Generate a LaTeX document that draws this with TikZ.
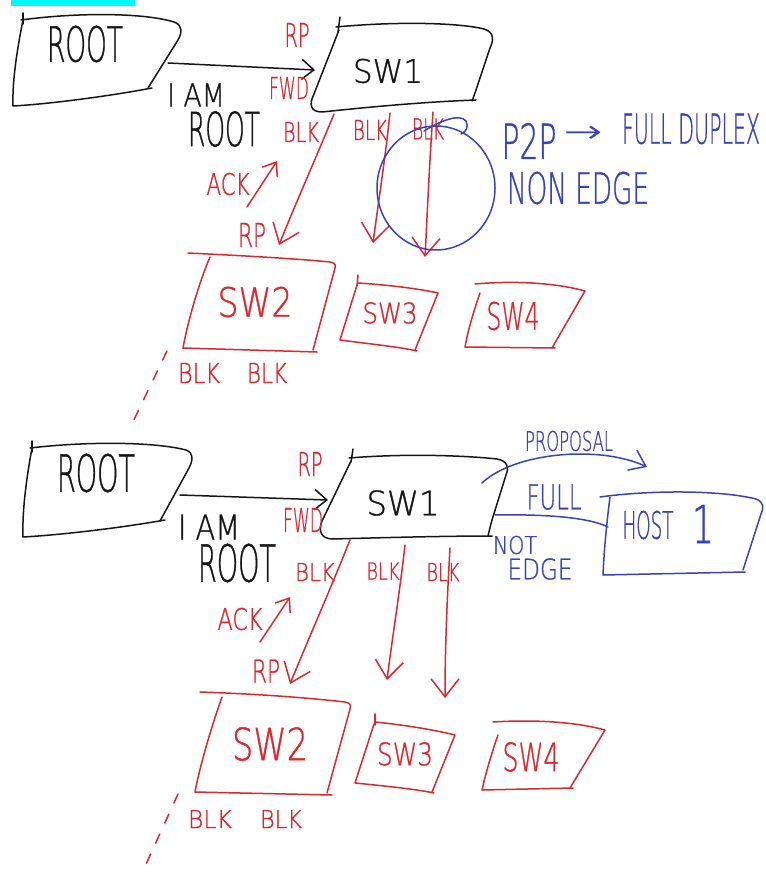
\documentclass[tikz,border=0pt]{standalone}
\usepackage{fontspec}
\usepackage{graphicx}
\setmainfont{Liberation Sans}
\newfontfamily\handfont[UprightFeatures={FakeBold=1}]{DejaVuSans-ExtraLight.ttf}
\usetikzlibrary{arrows.meta}

\definecolor{pen}{RGB}{22,22,22}
\definecolor{redpen}{RGB}{222,38,46}
\definecolor{bluepen}{RGB}{58,66,186}
\definecolor{cyanbar}{RGB}{0,250,250}

% hand-lettered label squeezed into a given width x height box (in pt)
\newcommand\hand[3]{\resizebox{#1pt}{#2pt}{\handfont #3}}

\tikzset{
  ink/.style={line width=1.5pt, line cap=round, line join=round},
  blk/.style={ink, draw=pen},
  rd/.style={ink, draw=redpen},
  bl/.style={ink, draw=bluepen},
  vhead/.style={-{Straight Barb[length=18pt,width=28pt]}},
  vblack/.style={-{Straight Barb[length=12pt,width=20pt]}},
  vsmall/.style={-{Straight Barb[length=12pt,width=18pt]}},
  lbl/.style={inner sep=0pt, anchor=center},
  redlbl/.style={lbl, text=redpen},
  bluelbl/.style={lbl, text=bluepen},
  blacklbl/.style={lbl, text=pen},
}

\begin{document}
\begin{tikzpicture}[x=1pt,y=-1pt]
\useasboundingbox (0,0) rectangle (765,874);
\fill[white] (0,0) rectangle (765,874);
\fill[cyanbar] (11,0) rectangle (135,6);

% ================= upper sketch =================
% ROOT bridge
\draw[blk] (23,13) -- (23,24);
\draw[blk] (21,20) .. controls (80,12) and (145,13) .. (174,22) .. controls (183,25) and (182,33) .. (178,40) -- (148,88);
\draw[blk] (152,88) .. controls (110,96) and (50,104) .. (13,106) .. controls (12,80) and (18,45) .. (23,20);
\node[blacklbl] (rootA) at (85,44) {\hand{76}{36}{ROOT}};

% SW1
\draw[blk] (340,17) -- (338,32);
\draw[blk] (336,27) .. controls (400,21) and (460,23) .. (484,29) .. controls (494,32) and (494,40) .. (490,48) -- (478,84) .. controls (476,90) and (474,96) .. (472,101);
\draw[blk] (476,100) .. controls (420,102) and (360,108) .. (322,112) .. controls (310,112) and (309,104) .. (314,94) -- (339,30);
\node[blacklbl] (sw1A) at (388,71) {\hand{70}{24}{SW1}};

% BPDU from the root
\coordinate (rootA-e) at (168,63);
\coordinate (sw1A-w) at (315,70);
\draw[blk, vblack] (rootA-e) -- (sw1A-w);
\node[blacklbl] (iamA) at (196,95) {\hand{58}{23}{I AM}};
\node[blacklbl] (rootmsgA) at (224,129) {\hand{72}{35}{ROOT}};
\node[redlbl] (rpA) at (297,35) {\hand{25}{24}{RP}};
\node[redlbl] (fwdA) at (289,88) {\hand{40}{22}{FWD}};

% SW2, SW3, SW4
\draw[rd] (188,253) .. controls (250,256) and (300,259) .. (330,262) .. controls (336,263) and (336,266) .. (335,268) -- (313,350);
\draw[rd] (210,257) .. controls (200,280) and (188,320) .. (183,348) -- (317,352);
\node[redlbl] (sw2A) at (255,302) {\hand{75}{30}{SW2}};

\draw[rd] (358,275) -- (357,286);
\draw[rd] (358,283) .. controls (390,285) and (420,289) .. (438,293) -- (415,350);
\draw[rd] (357,285) -- (340,340) .. controls (370,344) and (400,347) .. (417,351);
\node[redlbl] (sw3A) at (390,313) {\hand{55}{21}{SW3}};

\draw[rd] (475,284) .. controls (520,280) and (560,284) .. (585,291) -- (552,348);
\draw[rd] (480,293) .. controls (474,310) and (468,330) .. (465,347) -- (555,348);
\node[redlbl] (sw4A) at (513,316) {\hand{53}{28}{SW4}};

% proposal/agreement towards the downstream switches
\coordinate (sw1A-s1) at (334,114);
\coordinate (sw2A-n) at (279,245);
\coordinate (sw1A-s2) at (390,113);
\coordinate (sw3A-n) at (373,243);
\coordinate (sw1A-s3) at (433,112);
\coordinate (sw4A-n) at (425,257);
\draw[rd, vhead] (sw1A-s1) .. controls (315,160) and (295,205) .. (sw2A-n);
\draw[rd, vhead] (sw1A-s2) .. controls (385,160) and (378,205) .. (sw3A-n);
\draw[rd, vhead] (sw1A-s3) .. controls (429,170) and (427,220) .. (sw4A-n);
\node[redlbl] (blkA1) at (301,132) {\hand{36}{20}{BLK}};
\node[redlbl] (blkA2) at (370,130) {\hand{34}{20}{BLK}};
\node[redlbl] (blkA3) at (428,129) {\hand{32}{21}{BLK}};

\coordinate (ackA-from) at (247,207);
\coordinate (ackA-to) at (277,161);
\draw[rd, vsmall] (ackA-from) -- (ackA-to);
\node[redlbl] (ackA) at (228,184) {\hand{43}{22}{ACK}};
\node[redlbl] (rpA2) at (252,235) {\hand{28}{24}{RP}};

\node[redlbl] (blkA4) at (199,373) {\hand{42}{20}{BLK}};
\node[redlbl] (blkA5) at (267,373) {\hand{40}{20}{BLK}};
\draw[rd, dashed, dash pattern=on 10pt off 12pt] (167,351) -- (130,428);

% point-to-point link note
\draw[bl] (436,188) ellipse [x radius=59, y radius=62];
\draw[bl] (424,131) .. controls (440,121) and (460,113) .. (466,121) .. controls (469,127) and (466,132) .. (461,134);
\node[bluelbl] (p2pA) at (529,141) {\hand{55}{36}{P2P}};
\node[bluelbl] (toA) at (583,134) {\hand{38}{16}{→}};
\node[bluelbl] (fdA) at (691,129) {\hand{138}{30}{FULL DUPLEX}};
\node[bluelbl] (neA) at (578,188) {\hand{142}{32}{NON EDGE}};

% ================= lower sketch =================
% ROOT bridge
\draw[blk] (32,441) -- (32,452);
\draw[blk] (30,448) .. controls (90,441) and (155,442) .. (186,450) .. controls (194,453) and (193,460) .. (189,468) -- (160,521);
\draw[blk] (165,520) .. controls (120,528) and (60,535) .. (23,537) .. controls (22,510) and (27,475) .. (32,448);
\node[blacklbl] (rootB) at (96,473) {\hand{78}{38}{ROOT}};

% SW1
\draw[blk] (353,449) -- (351,462);
\draw[blk] (349,458) .. controls (410,453) and (470,456) .. (497,459) .. controls (508,461) and (509,468) .. (506,475) -- (492,520) .. controls (490,527) and (489,532) .. (488,536);
\draw[blk] (492,536) .. controls (440,536) and (370,538) .. (333,539) .. controls (321,539) and (318,531) .. (322,521) -- (351,461);
\node[blacklbl] (sw1B) at (403,503) {\hand{73}{25}{SW1}};

\coordinate (rootB-e) at (180,495);
\coordinate (sw1B-w) at (328,500);
\draw[blk, vblack] (rootB-e) -- (sw1B-w);
\node[blacklbl] (iamB) at (209,527) {\hand{62}{25}{I AM}};
\node[blacklbl] (rootmsgB) at (237,563) {\hand{78}{38}{ROOT}};
\node[redlbl] (rpB) at (310,464) {\hand{25}{24}{RP}};
\node[redlbl] (fwdB) at (303,520) {\hand{40}{24}{FWD}};

% SW2, SW3, SW4
\draw[rd] (200,692) .. controls (260,694) and (310,698) .. (345,702) .. controls (351,703) and (351,706) .. (350,709) -- (327,793);
\draw[rd] (222,697) .. controls (212,725) and (200,765) .. (195,792) -- (332,795);
\node[redlbl] (sw2B) at (270,744) {\hand{76}{33}{SW2}};

\draw[rd] (375,714) -- (375,725);
\draw[rd] (375,722) .. controls (405,725) and (435,730) .. (455,735) -- (432,792);
\draw[rd] (374,724) -- (355,783) .. controls (385,786) and (415,789) .. (434,793);
\node[redlbl] (sw3B) at (405,754) {\hand{56}{23}{SW3}};

\draw[rd] (493,722) .. controls (540,719) and (580,723) .. (605,730) -- (570,788);
\draw[rd] (498,735) .. controls (492,752) and (486,772) .. (482,790) -- (573,788);
\node[redlbl] (sw4B) at (531,757) {\hand{57}{29}{SW4}};

\coordinate (sw1B-s1) at (350,540);
\coordinate (sw2B-n) at (290,684);
\coordinate (sw1B-s2) at (405,545);
\coordinate (sw3B-n) at (387,680);
\coordinate (sw1B-s3) at (450,548);
\coordinate (sw4B-n) at (445,698);
\draw[rd, vhead] (sw1B-s1) .. controls (330,590) and (308,640) .. (sw2B-n);
\draw[rd, vhead] (sw1B-s2) .. controls (400,590) and (392,640) .. (sw3B-n);
\draw[rd, vhead] (sw1B-s3) .. controls (447,600) and (445,650) .. (sw4B-n);
\node[redlbl] (blkB1) at (315,572) {\hand{40}{18}{BLK}};
\node[redlbl] (blkB2) at (383,571) {\hand{33}{17}{BLK}};
\node[redlbl] (blkB3) at (443,572) {\hand{33}{18}{BLK}};

\coordinate (ackB-from) at (260,642);
\coordinate (ackB-to) at (290,597);
\draw[rd, vsmall] (ackB-from) -- (ackB-to);
\node[redlbl] (ackB) at (240,619) {\hand{45}{22}{ACK}};
\node[redlbl] (rpB2) at (266,671) {\hand{28}{23}{RP}};

\node[redlbl] (blkB4) at (210,819) {\hand{44}{18}{BLK}};
\node[redlbl] (blkB5) at (281,819) {\hand{42}{18}{BLK}};
\draw[rd, dashed, dash pattern=on 10pt off 12pt] (178,794) -- (142,873);

% HOST 1 on the edge side
\draw[bl] (600,497) .. controls (650,490) and (720,490) .. (756,499) .. controls (764,502) and (764,508) .. (761,514) -- (743,570);
\draw[bl] (610,497) .. controls (607,520) and (604,550) .. (603,575) -- (745,572);
\node[bluelbl] (hostB) at (648,525) {\hand{51}{28}{HOST}};
\node[bluelbl] (oneB) at (703,524) {\hand{22}{38}{1}};

\coordinate (sw1B-ne) at (482,483);
\coordinate (hostB-nw) at (647,467);
\draw[bl, -{Straight Barb[length=15pt,width=22pt]}] (sw1B-ne) .. controls (515,452) and (600,445) .. (hostB-nw);
\node[bluelbl] (propB) at (569,441) {\hand{88}{20}{PROPOSAL}};

\coordinate (sw1B-e) at (495,515);
\coordinate (hostB-w) at (608,527);
\draw[bl] (sw1B-e) .. controls (550,514) and (590,518) .. (hostB-w);
\node[bluelbl] (fullB) at (554,497) {\hand{55}{25}{FULL}};
\node[bluelbl] (notB) at (515,545) {\hand{44}{18}{NOT}};
\node[bluelbl] (edgeB) at (540,569) {\hand{65}{21}{EDGE}};
\end{tikzpicture}
\end{document}
